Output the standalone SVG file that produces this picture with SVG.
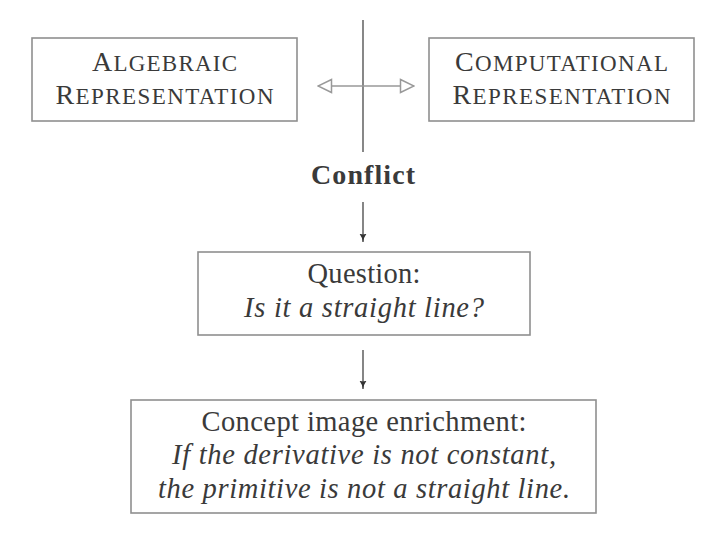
<svg xmlns="http://www.w3.org/2000/svg" width="706" height="536" viewBox="0 0 706 536">
<style>
  .box { fill: #ffffff; stroke: #8f8f8f; stroke-width: 1.6; }
  .t { font-family: "Liberation Serif", "DejaVu Serif", serif; fill: #3a3a3a; text-anchor: middle; }
  .rm { font-size: 28.5px; }
  .it { font-size: 28.5px; font-style: italic; }
  .bf { font-size: 28px; font-weight: bold; }
  .sc { font-size: 28px; }
  .sm { font-size: 23px; }
  .dline { stroke: #444; stroke-width: 1.3; fill: none; }
  .gline { stroke: #999; stroke-width: 1.4; fill: none; }
  .vline { stroke: #6a6a6a; stroke-width: 1.6; fill: none; }
</style>
<defs>
  <marker id="open" viewBox="0 0 16 16" refX="15" refY="8" markerWidth="16" markerHeight="16" markerUnits="userSpaceOnUse" orient="auto-start-reverse">
    <path d="M1.5,1.5 L15,8 L1.5,14.5 Z" fill="#fff" stroke="#999" stroke-width="1.5"/>
  </marker>
  <marker id="to" viewBox="0 0 9 9" refX="8.5" refY="4.5" markerWidth="9" markerHeight="9" markerUnits="userSpaceOnUse" orient="auto">
    <path d="M0,0.8 Q3.5,3.6 8.5,4.5 Q3.5,5.4 0,8.2 Q1.8,4.5 0,0.8 Z" fill="#333"/>
  </marker>
</defs>

<g id="connectors">
  <line class="vline" x1="363" y1="20" x2="363" y2="152"/>
  <line class="gline" x1="318" y1="86" x2="414" y2="86" marker-start="url(#open)" marker-end="url(#open)"/>
  <line class="dline" x1="363" y1="202" x2="363" y2="242" marker-end="url(#to)"/>
  <line class="dline" x1="363" y1="350" x2="363" y2="389" marker-end="url(#to)"/>
</g>

<g id="algebraic">
  <rect class="box" x="32" y="38" width="265" height="83"/>
  <text class="t sc" x="164.5" y="71" textLength="145" lengthAdjust="spacing">A<tspan class="sm">LGEBRAIC</tspan></text>
  <text class="t sc" x="164.5" y="104" textLength="218" lengthAdjust="spacing">R<tspan class="sm">EPRESENTATION</tspan></text>
</g>

<g id="computational">
  <rect class="box" x="429" y="38" width="265" height="83"/>
  <text class="t sc" x="561.5" y="71" textLength="213" lengthAdjust="spacing">C<tspan class="sm">OMPUTATIONAL</tspan></text>
  <text class="t sc" x="561.5" y="104" textLength="218" lengthAdjust="spacing">R<tspan class="sm">EPRESENTATION</tspan></text>
</g>

<g id="conflict">
  <text class="t bf" x="363" y="184" textLength="104" lengthAdjust="spacing">Conflict</text>
</g>

<g id="question">
  <rect class="box" x="198" y="252" width="332" height="83"/>
  <text class="t rm" x="364" y="283" textLength="113" lengthAdjust="spacing">Question:</text>
  <text class="t it" x="364" y="317" textLength="240" lengthAdjust="spacing">Is it a straight line?</text>
</g>

<g id="enrichment">
  <rect class="box" x="131" y="400" width="465" height="113"/>
  <text class="t rm" x="364" y="431" textLength="325" lengthAdjust="spacing">Concept image enrichment:</text>
  <text class="t it" x="364" y="464" textLength="384" lengthAdjust="spacing">If the derivative is not constant,</text>
  <text class="t it" x="364" y="497.5" textLength="412" lengthAdjust="spacing">the primitive is not a straight line.</text>
</g>
</svg>
